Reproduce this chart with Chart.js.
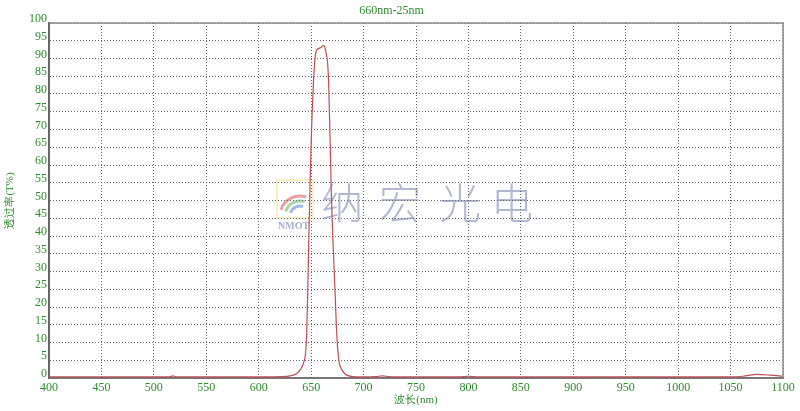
<!DOCTYPE html>
<html>
<head>
<meta charset="utf-8">
<script src="https://cdn.jsdelivr.net/npm/chart.js@4.4.0/dist/chart.umd.min.js"></script>
<style>
  html, body { margin: 0; padding: 0; background: #fff; }
  #wrap { width: 800px; height: 411px; }
</style>
</head>
<body>
<div id="wrap"><canvas id="grafico"></canvas></div>
<script>
// dados
const titulo = '660nm-25nm';
const tituloX = '波长(nm)';
const tituloY = '透过率(T%)';
const comprimentos = [400, 450, 500, 515, 518, 521, 560, 600, 620, 630, 636, 640, 643, 645, 646, 647, 648, 649, 650, 651, 652, 653, 654, 655, 657, 659, 661, 662, 663, 664, 665, 666, 667, 668, 669, 670, 671, 672, 673, 674, 675, 676, 677, 679, 682, 686, 690, 700, 712, 718, 724, 740, 790, 800, 810, 830, 900, 1000, 1050, 1062, 1075, 1088, 1100];
const transmissao = [0.3, 0.3, 0.3, 0.3, 0.6, 0.3, 0.3, 0.3, 0.4, 0.6, 1.2, 2.5, 4.5, 8, 15, 28, 42, 55, 66, 75, 82, 87.5, 90.8, 92.2, 92.8, 93, 93.5, 93.6, 93.2, 92, 90.5, 87.5, 80, 68, 55, 45, 37, 30, 23, 15, 9.5, 6, 4, 2.5, 1.2, 0.6, 0.4, 0.3, 0.4, 0.6, 0.4, 0.3, 0.3, 0.5, 0.3, 0.3, 0.3, 0.3, 0.3, 0.5, 1.0, 0.8, 0.5];
const ticksX = [400, 450, 500, 550, 600, 650, 700, 750, 800, 850, 900, 950, 1000, 1050, 1100];
const ticksY = [0, 5, 10, 15, 20, 25, 30, 35, 40, 45, 50, 55, 60, 65, 70, 75, 80, 85, 90, 95, 100];

const verde = '#2f8a2f';
const fonteSerif = 'Liberation Serif';

const pontos = comprimentos.map((x, i) => ({ x: x, y: transmissao[i] }));

// marca d'água + moldura
const marcaDagua = {
    id: 'marcaDagua',
    beforeDraw(chart) {
        const ctx = chart.ctx;
        ctx.save();
        // logo
        ctx.strokeStyle = '#f3eeb0';
        ctx.lineWidth = 1.5;
        ctx.strokeRect(277, 180, 36, 38);
        const cores = ['#e8a0a0', '#a8d8a8', '#a0b8e0'];
        cores.forEach((c, i) => {
            ctx.strokeStyle = c;
            ctx.lineWidth = 3;
            ctx.beginPath();
            ctx.arc(300, 216, 20 - i * 5, Math.PI * 1.1, Math.PI * 1.6);
            ctx.stroke();
        });
        ctx.fillStyle = 'rgba(150,160,190,0.85)';
        ctx.font = 'bold 10px "Liberation Serif"';
        ctx.textAlign = 'left';
        ctx.textBaseline = 'middle';
        ctx.fillText('NMOT', 278, 226);
        // texto
        ctx.fillStyle = 'rgba(165,170,200,0.85)';
        ctx.font = '300 42px "Noto Sans CJK SC"';
        ctx.textAlign = 'center';
        const chars = ['纳', '宏', '光', '电'];
        const xs = [342, 400, 460, 512];
        chars.forEach((c, i) => ctx.fillText(c, xs[i], 203));
        ctx.restore();
    },
    afterDraw(chart) {
        const a = chart.chartArea;
        const ctx = chart.ctx;
        ctx.save();
        ctx.strokeStyle = '#8a8a8a';
        ctx.lineWidth = 1.5;
        ctx.beginPath();
        ctx.moveTo(a.left, a.top);
        ctx.lineTo(a.right, a.top);
        ctx.lineTo(a.right, a.bottom);
        ctx.stroke();
        ctx.strokeStyle = '#666';
        ctx.lineWidth = 2;
        ctx.beginPath();
        ctx.moveTo(a.left, a.top);
        ctx.lineTo(a.left, a.bottom);
        ctx.stroke();
        ctx.restore();
    }
};

const ctxGrafico = document.getElementById('grafico').getContext('2d');
const grafico = new Chart(ctxGrafico, {
    type: 'line',
    data: {
        datasets: [{
            data: pontos,
            borderColor: '#bf4f55',
            borderWidth: 1.2,
            pointRadius: 0,
            fill: false,
            cubicInterpolationMode: 'monotone'
        }]
    },
    options: {
        responsive: true,
        maintainAspectRatio: false,
        animation: false,
        layout: { padding: { left: 0, right: 17, top: 0, bottom: 0 } },
        plugins: {
            legend: { display: false },
            tooltip: { enabled: false },
            title: {
                display: true,
                text: titulo,
                color: verde,
                font: { family: fonteSerif, size: 12, weight: 'normal' },
                padding: { top: 4, bottom: 4.6 }
            }
        },
        scales: {
            x: {
                type: 'linear',
                min: 400,
                max: 1100,
                afterFit(s) { s.height = 33; },
                afterBuildTicks(s) { s.ticks = ticksX.map(v => ({ value: v })); },
                ticks: {
                    color: verde,
                    font: { family: fonteSerif, size: 12 },
                    padding: 3,
                    maxRotation: 0,
                    autoSkip: false,
                    callback: v => String(v)
                },
                grid: { color: '#666', lineWidth: 1, drawTicks: false },
                border: { display: true, color: '#777', width: 2, dash: [1, 2] },
                title: {
                    display: true,
                    text: tituloX,
                    color: verde,
                    font: { family: fonteSerif, size: 11 },
                    padding: { top: 0, bottom: 4 }
                }
            },
            y: {
                min: 0,
                max: 100,
                afterFit(s) { s.width = 49; },
                afterBuildTicks(s) { s.ticks = ticksY.map(v => ({ value: v })); },
                ticks: {
                    color: verde,
                    font: { family: fonteSerif, size: 12 },
                    padding: 2,
                    labelOffset: -4,
                    autoSkip: false,
                    callback: v => String(v)
                },
                grid: { color: '#666', lineWidth: 1, drawTicks: false },
                border: { display: true, color: '#666', width: 2, dash: [1, 2] },
                title: {
                    display: true,
                    text: tituloY,
                    color: verde,
                    font: { family: fonteSerif, size: 11 },
                    padding: { top: 4, bottom: 0 }
                }
            }
        }
    },
    plugins: [marcaDagua]
});
</script>
</body>
</html>
